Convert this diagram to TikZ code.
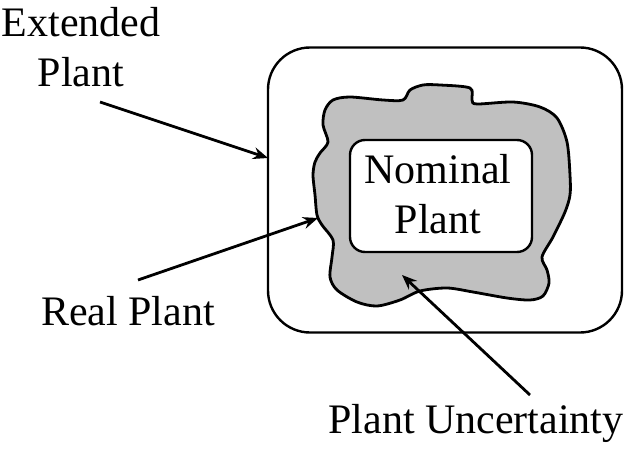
\documentclass[tikz,border=0pt]{standalone}
\usepackage{fontspec}
\setmainfont{Liberation Serif}
\usepackage{tikz}
\usetikzlibrary{arrows,arrows.meta,shapes,backgrounds}

\definecolor{uncgray}{RGB}{192,192,192}
\tikzset{
  pointer/.style={-{Stealth[length=15pt,width=12pt,inset=5pt]}, line width=2.8pt},
  lbl/.style={inner sep=0pt, align=center}
}

\begin{document}
\begin{tikzpicture}[x=1pt, y=-1pt, font=\fontsize{42}{50}\selectfont, line width=2.4pt]
    \useasboundingbox (0,0) rectangle (639,449);
    % outer box
    \node[draw, rounded corners=42pt, minimum width=354pt, minimum height=285pt, inner sep=0pt] (ext) at (445,190) {};
    % uncertainty region
    \draw[fill=uncgray, line width=2.8pt] plot[smooth cycle, tension=0.5] coordinates {
      (403,100) (410,90) (423,85) (440,85) (470,88) (472,100) (477,104) (513,102)
      (540,107) (557,118) (567,142) (570,175) (570,195) (565,212) (553,237) (542,257)
      (547,270) (549,283) (543,296) (530,300) (507,298) (473,292) (447,288) (420,291)
      (400,300) (377,306) (357,302) (337,290) (330,277) (332,257) (333,240) (322,225)
      (317,215) (315,195) (313,175) (315,162) (320,153) (328,142) (323,125) (325,110)
      (333,100) (350,97) (383,100)};
    \node[draw, fill=white, rounded corners=15pt, minimum width=182pt, minimum height=112pt, lbl] (nom) at (441,196) {};
    \node[lbl, anchor=base] (nomLbl) at (438,233) {Nominal\\Plant};
    % labels
    \node[lbl, anchor=base] (extLbl) at (81,87) {Extended\\Plant};
    \node[lbl, anchor=base] (realLbl) at (128,325) {Real Plant};
    \node[lbl, anchor=base] (uncLbl) at (476,433) {Plant Uncertainty};
    % arrows
    \coordinate (extTail) at (100,102);
    \coordinate (extTip) at (268,158);
    \coordinate (realTail) at (138,280);
    \coordinate (realTip) at (318,218);
    \coordinate (uncTail) at (530,395);
    \coordinate (uncTip) at (402,275);
    \draw[pointer] (extTail) -- (extTip);
    \draw[pointer] (realTail) -- (realTip);
    \draw[pointer] (uncTail) -- (uncTip);
  \end{tikzpicture}
\end{document}
